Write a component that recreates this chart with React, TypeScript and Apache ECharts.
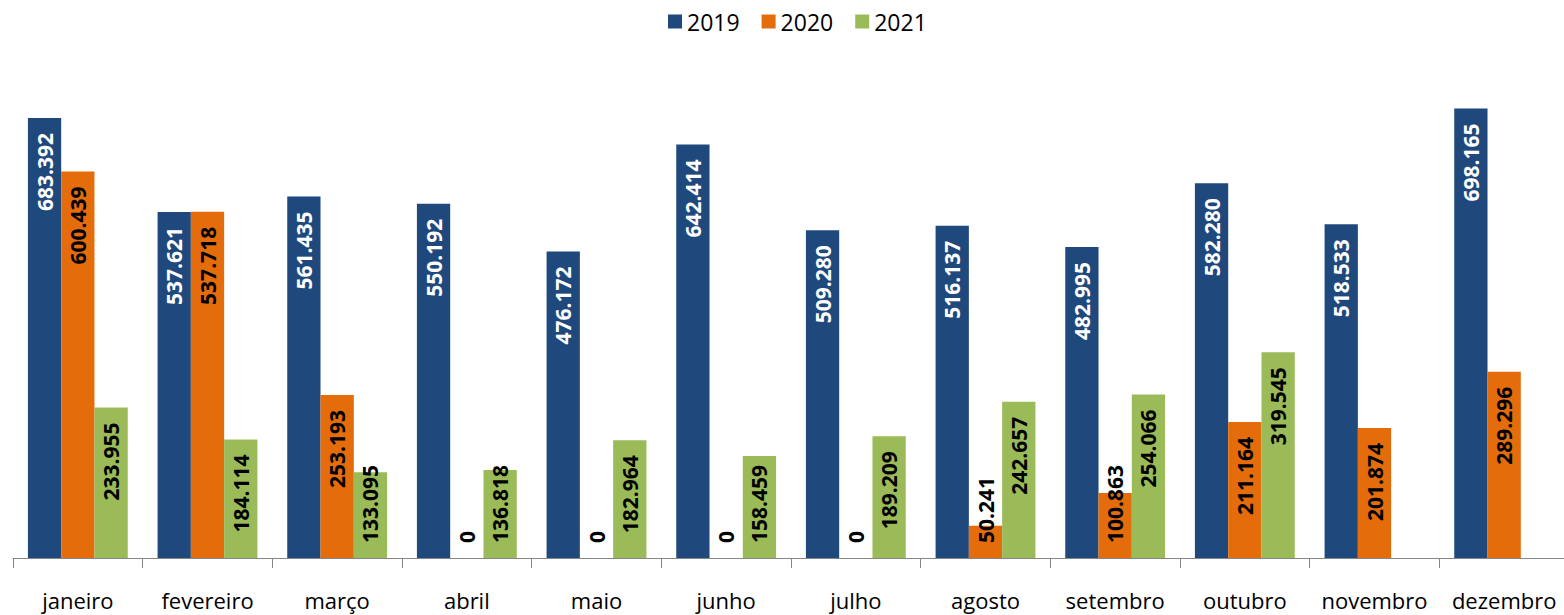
import React, { useEffect, useRef } from "react";
import * as echarts from "echarts";

const months = ["janeiro", "fevereiro", "março", "abril", "maio", "junho", "julho", "agosto", "setembro", "outubro", "novembro", "dezembro"];
const seriesNames = ["2019", "2020", "2021"];
const values2019 = [683392, 537621, 561435, 550192, 476172, 642414, 509280, 516137, 482995, 582280, 518533, 698165];
const values2020 = [600439, 537718, 253193, 0, 0, 0, 0, 50241, 100863, 211164, 201874, 289296];
const values2021: (number | null)[] = [233955, 184114, 133095, 136818, 182964, 158459, 189209, 242657, 254066, 319545, null, null];
const colors = ["#1F497D", "#E46C0A", "#9BBB59"];
const labelColors = ["#FFFFFF", "#000000", "#000000"];

const Y_MAX = 800000;
const FONT = "'Open Sans', sans-serif";

function fmt(v: number) {
  if (v === 0) return "0";
  const k = Math.floor(v / 1000);
  const r = v % 1000;
  return k + "." + String(r).padStart(3, "0");
}

export default function App() {
  const ref = useRef<HTMLDivElement>(null);
  useEffect(() => {
    if (!ref.current) return;
    const chart = echarts.init(ref.current, null, { renderer: "svg" });
    const all = [values2019, values2020, values2021];
    const plotH = 515;
    const series = all.map((vals, si) => ({
      name: seriesNames[si],
      type: "bar",
      barGap: "0%",
      barCategoryGap: "23%",
      itemStyle: { color: colors[si] },
      label: {
        show: true,
        rotate: 90,
        position: "insideTop",
        distance: 15,
        align: "right",
        verticalAlign: "middle",
        color: labelColors[si],
        fontFamily: FONT,
        fontWeight: "bold",
        fontSize: 21,
        formatter: (p: any) => fmt(p.value),
      },
      data: vals.map((v) => {
        if (v === null) return null;
        const h = (v / Y_MAX) * plotH;
        if (h < 110) {
          return {
            value: v,
            label: { position: "insideBottom", align: "left", verticalAlign: "middle", distance: 15 },
          };
        }
        return v;
      }),
    }));
    chart.setOption({
      animation: false,
      legend: {
        data: seriesNames,
        left: 663,
        top: 5,
        icon: "rect",
        itemWidth: 14,
        itemHeight: 14,
        itemGap: 22,
        textStyle: { fontFamily: FONT, fontSize: 23, color: "#000" },
      },
      grid: { left: 13, width: 1556, top: 43, height: plotH },
      xAxis: {
        type: "category",
        data: months,
        boundaryGap: true,
        axisLine: { lineStyle: { color: "#868686", width: 1 } },
        axisTick: { show: true, length: 10, lineStyle: { color: "#868686" } },
        axisLabel: { fontFamily: FONT, fontSize: 22, color: "#000", margin: 30, interval: 0, lineHeight: 24 },
      },
      yAxis: {
        type: "value",
        min: 0,
        max: Y_MAX,
        show: false,
        splitLine: { show: false },
      },
      series,
    });
    return () => chart.dispose();
  }, []);
  return (
    <div style={{ position: "fixed", left: 0, top: 0, width: 1564, height: 615, overflow: "hidden", background: "#fff" }}>
      <div ref={ref} style={{ width: 1580, height: 615 }} />
    </div>
  );
}
